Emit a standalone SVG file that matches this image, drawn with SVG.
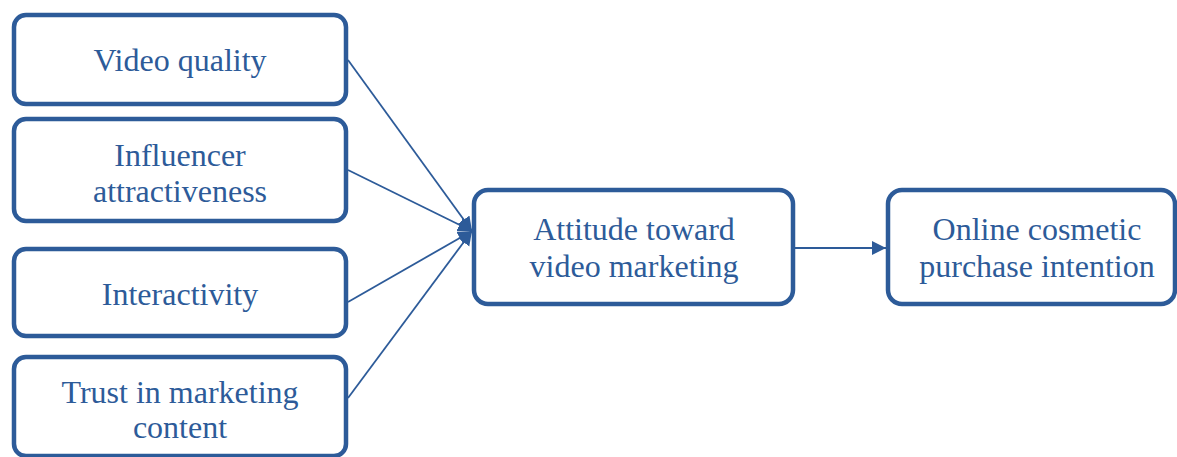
<svg xmlns="http://www.w3.org/2000/svg" width="1177" height="457" viewBox="0 0 1177 457">
  <style>
    .box { fill: #ffffff; stroke: #2D5B99; stroke-width: 4.5; }
    .lbl { font-family: "Liberation Serif", "Times New Roman", serif; font-size: 32px; fill: #2D5B99; text-anchor: middle; }
    .conn { stroke: #2D5B99; stroke-width: 1.8; fill: none; }
  </style>
  <defs>
    <marker id="arrow" markerUnits="userSpaceOnUse" markerWidth="15" markerHeight="15" refX="14" refY="7" orient="auto">
      <path d="M0,0 L14,7 L0,14 z" fill="#2D5B99"/>
    </marker>
  </defs>
  <rect width="1177" height="457" fill="#ffffff"/>
  <g id="connectors">
    <line class="conn" x1="348" y1="60" x2="472" y2="231" marker-end="url(#arrow)"/>
    <line class="conn" x1="348" y1="170" x2="472" y2="231" marker-end="url(#arrow)"/>
    <line class="conn" x1="348" y1="302" x2="472" y2="231" marker-end="url(#arrow)"/>
    <line class="conn" x1="348" y1="398" x2="472" y2="231" marker-end="url(#arrow)"/>
    <line class="conn" x1="795" y1="248" x2="886" y2="248" marker-end="url(#arrow)"/>
  </g>
  <g id="video-quality">
    <rect class="box" x="14" y="15" width="332" height="89" rx="12"/>
    <text class="lbl" x="180" y="71">Video quality</text>
  </g>
  <g id="influencer-attractiveness">
    <rect class="box" x="14" y="119" width="332" height="102" rx="12"/>
    <text class="lbl" x="180" y="166">Influencer</text>
    <text class="lbl" x="180" y="202">attractiveness</text>
  </g>
  <g id="interactivity">
    <rect class="box" x="14" y="249" width="332" height="87" rx="12"/>
    <text class="lbl" x="180" y="305">Interactivity</text>
  </g>
  <g id="trust">
    <rect class="box" x="14" y="357" width="332" height="99" rx="12"/>
    <text class="lbl" x="180" y="403">Trust in marketing</text>
    <text class="lbl" x="180" y="438">content</text>
  </g>
  <g id="attitude">
    <rect class="box" x="474" y="190" width="319" height="114" rx="14"/>
    <text class="lbl" x="634" y="240">Attitude toward</text>
    <text class="lbl" x="634" y="277">video marketing</text>
  </g>
  <g id="purchase-intention">
    <rect class="box" x="888" y="190" width="287" height="114" rx="14"/>
    <text class="lbl" x="1037" y="240">Online cosmetic</text>
    <text class="lbl" x="1037" y="277">purchase intention</text>
  </g>
</svg>
